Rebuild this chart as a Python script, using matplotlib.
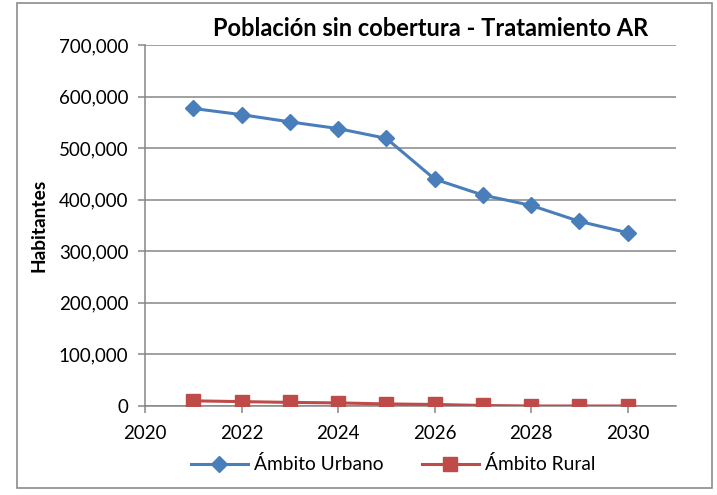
import matplotlib
matplotlib.use("Agg")
import matplotlib.pyplot as plt
from matplotlib.patches import Rectangle
from matplotlib.ticker import FuncFormatter

# datos
anios = [2021, 2022, 2023, 2024, 2025, 2026, 2027, 2028, 2029, 2030]
urbano = [577000, 565000, 551000, 538000, 519000, 440000, 409000, 389000, 358000, 336000]
rural = [10000, 8500, 7000, 6000, 4000, 3000, 1000, 0, 0, 0]

titulo = "Población sin cobertura - Tratamiento AR"
etiqueta_y = "Habitantes"
serie_urbano = "Ámbito Urbano"
serie_rural = "Ámbito Rural"

plt.rcParams['font.family'] = ['Lato', 'DejaVu Sans']

fig = plt.figure(figsize=(7.17, 4.95), dpi=100)
ax = fig.add_axes([0.2022, 0.1798, 0.7406, 0.7292])

# borde exterior del grafico
fig.patches.append(Rectangle((17 / 717, 1 - 488 / 495), 695 / 717, 485 / 495,
                             transform=fig.transFigure, fill=False,
                             edgecolor='#8c8c8c', linewidth=1.2))

azul = '#4a7ebb'
rojo = '#be4b48'

ax.plot(anios, urbano, color=azul, linewidth=2.2, marker='D', markersize=8.5,
        label=serie_urbano, zorder=3)
ax.plot(anios, rural, color=rojo, linewidth=2.2, marker='s', markersize=10,
        label=serie_rural, zorder=3)

ax.set_xlim(2020, 2031)
ax.set_ylim(0, 700000)
ax.set_xticks(range(2020, 2031, 2))
ax.set_yticks(range(0, 700001, 100000))
ax.yaxis.set_major_formatter(FuncFormatter(lambda v, p: f"{int(v):,}"))

ax.grid(True, axis='y', color='#868686', linewidth=1.1)
ax.set_axisbelow(True)
for s in ['top', 'right']:
    ax.spines[s].set_visible(False)
for s in ['left', 'bottom']:
    ax.spines[s].set_color('#868686')
    ax.spines[s].set_linewidth(1.1)
ax.tick_params(axis='both', colors='#868686', labelcolor='black',
               labelsize=13.5, length=5, width=1.1)
ax.tick_params(axis='y', pad=7)
ax.tick_params(axis='x', pad=9)

ax.set_ylabel(etiqueta_y, fontsize=13.8, fontweight='bold', labelpad=8)
fig.text(0.601, 0.943, titulo, fontsize=17, fontweight='bold',
         ha='center', va='center')

fig.legend(loc='center', bbox_to_anchor=(0.548, 0.062), ncol=2, frameon=False,
           fontsize=13.8, handlelength=3.0, columnspacing=2.0, handletextpad=0.3)

fig.savefig('out.png', dpi=100)
